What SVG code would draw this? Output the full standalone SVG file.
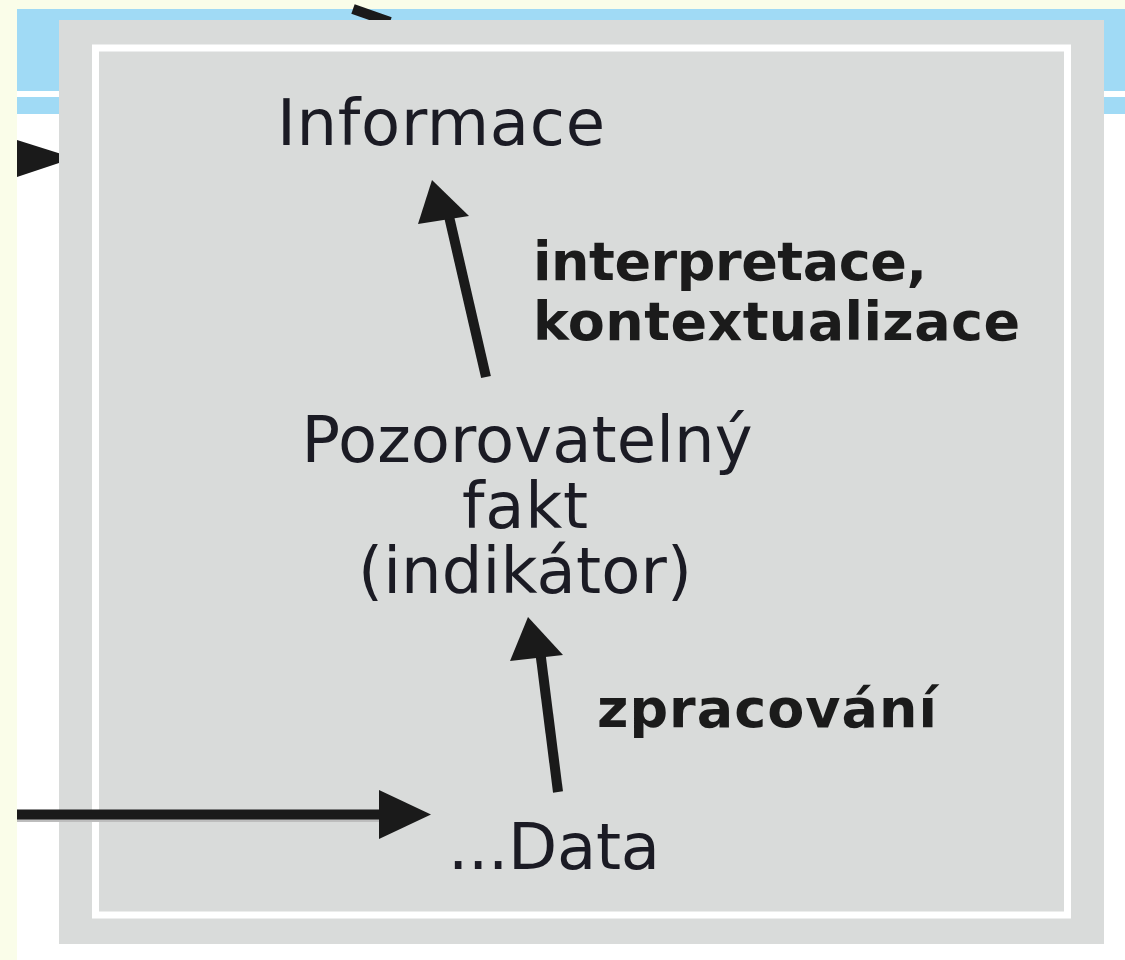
<svg xmlns="http://www.w3.org/2000/svg" width="1125" height="960" viewBox="0 0 1125 960">
<style>
.node{font-family:"DejaVu Sans","Liberation Sans",Arial,sans-serif;font-size:64px;fill:#1b1b24;text-anchor:middle}
.lbl{font-family:"DejaVu Sans","Liberation Sans",Arial,sans-serif;font-size:54px;font-weight:bold;fill:#1b1b1b}
.arr{stroke:#1a1a1a;stroke-width:10;fill:none}
.head{fill:#1a1a1a}
</style>
<rect width="1125" height="960" fill="#ffffff"/>
<rect x="0" y="0" width="1125" height="9" fill="#fafde9"/>
<rect x="0" y="0" width="17" height="960" fill="#fafde9"/>
<rect x="17" y="9" width="1108" height="82" fill="#a0daf5"/>
<rect x="17" y="97" width="1108" height="17" fill="#a0daf5"/>
<g id="connectors">
<line x1="353" y1="9" x2="390" y2="22" class="arr" stroke-width="9"/>
<polygon class="head" points="17,140 74,158 17,177"/>
</g>
<rect id="panel" x="59" y="20" width="1045" height="924" fill="#d9dbda"/>
<rect x="95.5" y="48" width="972" height="867" fill="none" stroke="#ffffff" stroke-width="7"/>
<g id="connectors-main">
<line x1="17" y1="820.5" x2="381" y2="820.5" stroke="#bdbdbd" stroke-width="3"/>
<line x1="17" y1="814.5" x2="385" y2="814.5" class="arr" stroke-width="9"/>
<polygon class="head" points="379,790 431,814.5 379,839"/>
<line x1="486" y1="377" x2="448" y2="212" class="arr"/>
<polygon class="head" points="432,180 469,216 418,224"/>
<line x1="558" y1="792" x2="540" y2="650" class="arr"/>
<polygon class="head" points="528,617 563,655 510,661"/>
</g>
<g id="node-informace"><text class="node" x="441" y="145" textLength="328" lengthAdjust="spacing">Informace</text></g>
<g id="node-fakt">
<text class="node" x="527" y="462" textLength="451" lengthAdjust="spacing">Pozorovatelný</text>
<text class="node" x="525" y="528" textLength="126" lengthAdjust="spacing">fakt</text>
<text class="node" x="525" y="593" textLength="334" lengthAdjust="spacing">(indikátor)</text>
</g>
<g id="node-data"><text class="node" x="554" y="869" textLength="212" lengthAdjust="spacing">...Data</text></g>
<g id="label-interpretace">
<text class="lbl" x="533" y="280" textLength="394" lengthAdjust="spacing">interpretace,</text>
<text class="lbl" x="533" y="340" textLength="487" lengthAdjust="spacing">kontextualizace</text>
</g>
<g id="label-zpracovani"><text class="lbl" x="597" y="727" textLength="340" lengthAdjust="spacing">zpracování</text></g>
</svg>
